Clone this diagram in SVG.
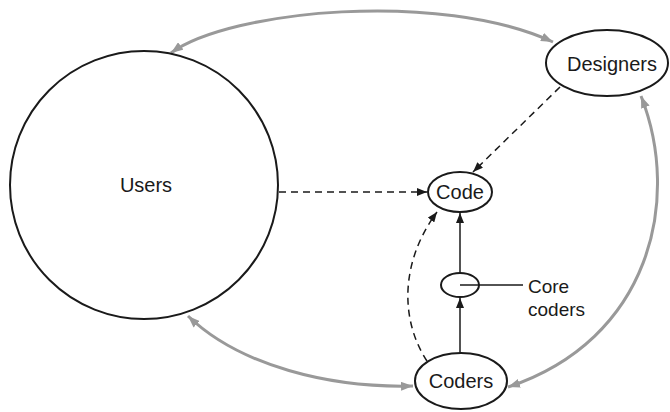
<svg xmlns="http://www.w3.org/2000/svg" width="670" height="412" viewBox="0 0 670 412">
  <style>
    .node { fill: #fff; stroke: #1a1a1a; stroke-width: 2; }
    .label { font-family: "Liberation Sans", Arial, sans-serif; font-size: 20px; fill: #1a1a1a; text-anchor: middle; }
    .side { font-family: "Liberation Sans", Arial, sans-serif; font-size: 19px; fill: #1a1a1a; }
    .flow { fill: none; stroke: #1a1a1a; stroke-width: 1.5; }
    .dash { stroke-dasharray: 7 5; }
    .link { fill: none; stroke: #999; stroke-width: 3; }
  </style>
  <defs>
    <marker id="arrow-black" viewBox="0 0 10 8" refX="10" refY="4" markerWidth="10" markerHeight="8" markerUnits="userSpaceOnUse" orient="auto-start-reverse">
      <path d="M0,0 L10,4 L0,8 Z" fill="#1a1a1a"/>
    </marker>
    <marker id="arrow-grey" viewBox="0 0 12 9" refX="12" refY="4.5" markerWidth="12" markerHeight="9" markerUnits="userSpaceOnUse" orient="auto-start-reverse">
      <path d="M0,0 L12,4.5 L0,9 Z" fill="#999"/>
    </marker>
  </defs>

  <!-- connectors -->
  <g id="connectors">
    <!-- two-way grey links between the groups -->
    <path class="link" d="M171,53 C230,10 440,-10 553,42" marker-start="url(#arrow-grey)" marker-end="url(#arrow-grey)"/>
    <path class="link" d="M188,316 C240,366 330,388 413,386" marker-start="url(#arrow-grey)" marker-end="url(#arrow-grey)"/>
    <path class="link" d="M641,96 C682,200 650,340 508,387" marker-start="url(#arrow-grey)" marker-end="url(#arrow-grey)"/>
    <!-- contributions to the code -->
    <path class="flow dash" d="M279,192 L427,192" marker-end="url(#arrow-black)"/>
    <path class="flow dash" d="M560,87 L473,172" marker-end="url(#arrow-black)"/>
    <path class="flow dash" d="M427,361 C400,320 400,262 437,212" marker-end="url(#arrow-black)"/>
    <path class="flow" d="M460,273 L460,213" marker-end="url(#arrow-black)"/>
    <path class="flow" d="M460,353 L460,298" marker-end="url(#arrow-black)"/>
  </g>

  <g id="users">
    <circle class="node" cx="144" cy="185" r="134"/>
    <text class="label" x="146" y="192">Users</text>
  </g>

  <g id="designers">
    <ellipse class="node" cx="607" cy="63" rx="61" ry="33"/>
    <text class="label" x="612" y="71">Designers</text>
  </g>

  <g id="code">
    <ellipse class="node" cx="460" cy="192" rx="32" ry="20"/>
    <text class="label" x="460" y="199">Code</text>
  </g>

  <g id="core-coders">
    <ellipse class="node" cx="460" cy="285" rx="19" ry="12"/>
    <!-- callout line from the core ellipse to its label -->
    <path class="flow" d="M460,285 L523,285"/>
    <text class="side" x="528" y="293">Core</text>
    <text class="side" x="528" y="316">coders</text>
  </g>

  <g id="coders">
    <ellipse class="node" cx="461" cy="381" rx="46" ry="28"/>
    <text class="label" x="461" y="388">Coders</text>
  </g>
</svg>
